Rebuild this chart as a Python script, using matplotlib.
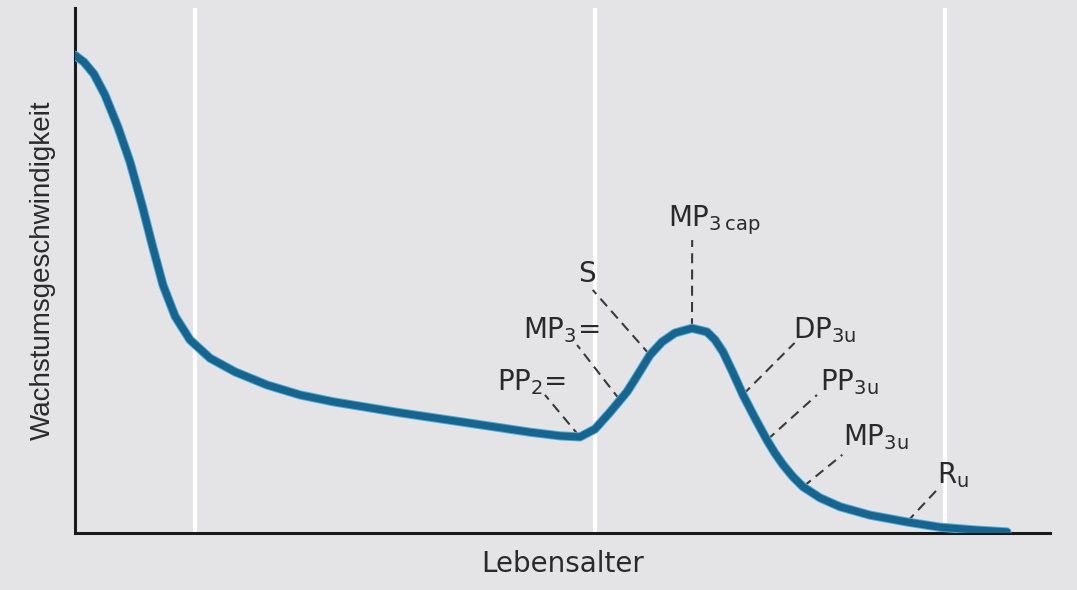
import numpy as np
import matplotlib
matplotlib.use('Agg')
import matplotlib.pyplot as plt

# Wachstumskurve (schematisch), Lebensalter und Geschwindigkeit in relativen Einheiten 0..100
age = [0.0, 0.92, 1.95, 3.08, 4.41, 5.64, 6.87, 8.0, 9.03, 10.26, 11.79,
       13.85, 16.41, 19.69, 23.08, 26.46, 33.33, 40.21, 46.67, 49.74, 51.79,
       53.33, 54.87, 56.62, 57.44, 58.97, 60.21, 61.54, 63.28, 64.82, 65.64,
       66.46, 67.49, 68.51, 69.74, 70.97, 71.79, 72.62, 73.64, 74.67, 76.41,
       78.46, 81.54, 85.33, 88.72, 92.10, 95.59]
velocity = [91.0, 89.7, 87.4, 83.4, 77.3, 70.7, 62.5, 54.3, 47.2, 41.3, 36.8,
            33.3, 30.7, 28.2, 26.3, 25.0, 22.9, 21.0, 19.2, 18.5, 18.3,
            19.8, 23.0, 26.9, 29.3, 33.9, 36.4, 38.1, 39.0, 38.3, 36.8,
            34.5, 30.5, 26.3, 21.9, 17.7, 15.2, 13.0, 10.7, 8.8, 6.7,
            5.0, 3.4, 2.1, 1.1, 0.6, 0.2]

# Reifestadien: Beschriftung, Alter auf der Kurve, Ende der Hilfslinie, Textposition
stage_labels = ['MP$_{3\\,cap}$', 'S', 'MP$_3$=', 'PP$_2$=',
                'DP$_{3u}$', 'PP$_{3u}$', 'MP$_{3u}$', 'R$_u$']
stage_age = [63.28, 58.97, 55.9, 51.79, 68.5, 70.97, 74.67, 85.33]
leader_end = [(63.3, 55.8), (53.1, 46.3), (51.5, 35.8), (48.2, 26.3),
              (73.8, 36.2), (76.1, 26.3), (78.7, 14.9), (88.4, 8.2)]
text_pos = [(60.8, 58.5), (51.6, 47.8), (45.9, 37.1), (43.3, 27.2),
            (73.6, 37.1), (76.4, 27.2), (78.8, 16.8), (88.4, 9.5)]

# weisse Trennlinien
bands = [12.3, 53.3, 89.2]

bg = '#e4e4e7'
plt.rcParams['mathtext.fontset'] = 'dejavusans'
plt.rcParams['mathtext.default'] = 'regular'

fig = plt.figure(figsize=(10.77, 5.90), dpi=100, facecolor=bg)
ax = fig.add_axes([75 / 1077, 57 / 590, 975 / 1077, 525 / 590])
ax.set_facecolor(bg)
ax.set_xlim(0, 100)
ax.set_ylim(0, 100)

for xb in bands:
    ax.axvline(xb, color='white', lw=3, zorder=1)

ax.plot(age, velocity, color='#52acd6', lw=6.6, solid_capstyle='round',
        solid_joinstyle='round', zorder=3)
ax.plot(age, velocity, color='#17658e', lw=5.2, solid_capstyle='round',
        solid_joinstyle='round', zorder=4)

for lab, a, end, pos in zip(stage_labels, stage_age, leader_end, text_pos):
    y0 = np.interp(a, age, velocity)
    ax.plot([a, end[0]], [y0, end[1]], color='#3a3a3a', lw=1.5,
            dashes=(4.8, 3.0), zorder=2)
    ax.text(pos[0], pos[1], lab, fontsize=20, family='DejaVu Sans',
            color='#2a2a2a', ha='left', va='baseline', zorder=5)

for side in ['top', 'right']:
    ax.spines[side].set_visible(False)
for side in ['left', 'bottom']:
    ax.spines[side].set_linewidth(2.2)
    ax.spines[side].set_color('#1a1a1a')
ax.set_xticks([])
ax.set_yticks([])

ax.set_xlabel('Lebensalter', fontsize=20, family='DejaVu Sans',
              color='#2a2a2a', labelpad=12)
ax.set_ylabel('Wachstumsgeschwindigkeit', fontsize=20,
              family='Liberation Sans', color='#2a2a2a', labelpad=14)

fig.savefig('out.png', dpi=100, facecolor=bg)
